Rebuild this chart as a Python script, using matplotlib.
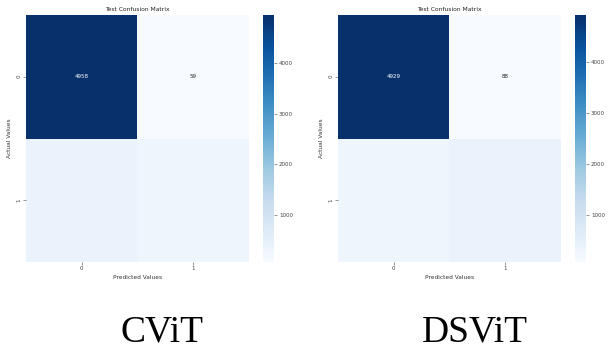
"""Two test confusion matrices (CViT vs DSViT) side by side."""

import matplotlib
matplotlib.use("Agg")
import matplotlib.pyplot as plt
import numpy as np
import seaborn as sns

class_labels = ["0", "1"]
cbar_ticks = [1000, 2000, 3000, 4000]

model_names = ["CViT", "DSViT"]
cvit_matrix = [[4958, 59], [370, 280]]
dsvit_matrix = [[4929, 88], [300, 420]]

W, H = 612, 351


def px_box(x0, x1, y0, y1):
    # pixel box (top-left origin) -> figure fraction rect
    return [x0 / W, (H - y1) / H, (x1 - x0) / W, (y1 - y0) / H]


fig = plt.figure(figsize=(W / 100, H / 100), dpi=100)
fig.patch.set_facecolor("white")

layouts = [
    {"hm": px_box(25.7, 249, 15, 262), "cb": px_box(263, 274, 15, 262), "label_x": 162},
    {"hm": px_box(337.7, 561, 15, 262), "cb": px_box(575, 586, 15, 262), "label_x": 475},
]

for name, matrix, lay in zip(model_names, [cvit_matrix, dsvit_matrix], layouts):
    cm = np.array(matrix)
    # only the first row shows its counts, as in the original output
    annot = np.array([[str(v) for v in cm[0]], ["", ""]])

    ax = fig.add_axes(lay["hm"])
    cax = fig.add_axes(lay["cb"])
    sns.heatmap(cm, annot=annot, fmt="", cmap="Blues", ax=ax, cbar_ax=cax,
                annot_kws={"fontsize": 4},
                xticklabels=class_labels, yticklabels=class_labels)
    ax.set_title("Test Confusion Matrix", fontsize=4.3, pad=3, color="#222222")
    ax.set_xlabel("Predicted Values", fontsize=4.2, labelpad=2.5, color="#333333")
    ax.set_ylabel("Actual Values", fontsize=4.2, labelpad=3, color="#333333")
    ax.tick_params(labelsize=4, length=2, width=0.4, pad=1.2, colors="#444444")
    plt.setp(ax.get_yticklabels(), rotation=90, va="center")
    plt.setp(ax.get_xticklabels(), rotation=0)

    cax.set_yticks(cbar_ticks)
    cax.tick_params(labelsize=4, length=2, width=0.4, pad=1.5, colors="#444444")

    fig.text(lay["label_x"] / W, (H - 342) / H, name, family="Liberation Serif",
             fontsize=27, ha="center", va="baseline", color="black")

fig.savefig("out.png", dpi=100, facecolor="white")
